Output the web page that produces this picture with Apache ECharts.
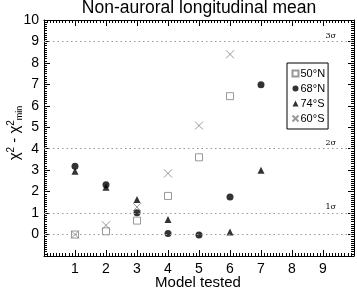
<!DOCTYPE html>
<html><head><meta charset="utf-8">
<script src="https://cdn.jsdelivr.net/npm/echarts@6/dist/echarts.min.js"></script>
<style>html,body{margin:0;padding:0;background:#fff}#c{width:357px;height:290px}</style>
</head><body><div id="c"></div>
<script>
const models = [1, 2, 3, 4, 5, 6, 7];
const xTickLabels = [1, 2, 3, 4, 5, 6, 7, 8, 9];
const yTickLabels = [0, 1, 2, 3, 4, 5, 6, 7, 8, 9, 10];
const n50N = [0.0, 0.15, 0.65, 1.8, 3.6, 6.45, null];
const n68N = [3.18, 2.32, 1.02, 0.05, -0.02, 1.75, 6.98];
const s74S = [2.95, 2.2, 1.63, 0.7, null, 0.12, 3.0];
const s60S = [0.0, 0.43, 1.28, 2.85, 5.08, 8.4, null];
const sigmaLevels = [1, 4, 9];
const sigmaNames = ['1σ', '2σ', '3σ'];
const xName = 'Model tested';
const yName = '{c|χ}{sup|2}{c| - χ}{sup|2}{sub|min}';

const font = 'Liberation Sans';
const pairs = arr => models.map((m, i) => [m, arr[i]]).filter(p => p[1] !== null);
const crossPath = 'path://M0,0L10,10M10,0L0,10';

const chart = echarts.init(document.getElementById('c'), null, {renderer: 'canvas'});
const axisCommon = {
  min: 0, max: 10, interval: 1,
  axisLine: {show: true, onZero: false, lineStyle: {color: '#000', width: 1}},
  axisTick: {show: true, inside: true, length: 6, lineStyle: {color: '#000'}},
  minorTick: {show: true, splitNumber: 10, length: 3, lineStyle: {color: '#000'}},
  splitLine: {show: false}
};
chart.setOption({
  animation: false,
  title: [
    {text: 'Non-auroral longitudinal mean', left: 199, textAlign: 'center', top: -1, padding: 0,
      textStyle: {fontFamily: font, fontSize: 17.5, fontWeight: 'normal', color: '#000'}},
    {text: xName, left: 198, textAlign: 'center', top: 275, padding: 0,
      textStyle: {fontFamily: font, fontSize: 15, fontWeight: 'normal', color: '#000'}}
  ],
  graphic: [{type: 'text', x: 15, y: 133, rotation: Math.PI / 2,
    style: {text: yName, align: 'center', verticalAlign: 'middle', fill: '#000',
      font: '15px "Liberation Sans"',
      rich: {
        c: {fontFamily: font, fontSize: 15, fill: '#000', lineHeight: 18, verticalAlign: 'middle'},
        sup: {fontFamily: font, fontSize: 10, fill: '#000', lineHeight: 18, verticalAlign: 'top'},
        sub: {fontFamily: font, fontSize: 9, fill: '#000', lineHeight: 18, verticalAlign: 'bottom'}
      }}}],
  grid: {left: 44, right: 3, top: 20, bottom: 34, outerBoundsMode: 'none', containLabel: false},
  legend: {orient: 'vertical', left: 287, top: 63, padding: [4, 3, 4, 3],
    borderColor: '#000', borderWidth: 1, backgroundColor: '#fff',
    itemWidth: 6, itemHeight: 6, itemGap: 2,
    textStyle: {fontFamily: font, fontSize: 11, lineHeight: 13, color: '#000', padding: [0, 0, 0, -3]},
    data: ['50°N', '68°N', '74°S', '60°S']},
  xAxis: [
    Object.assign({}, axisCommon, {type: 'value', position: 'bottom',
      axisLabel: {fontFamily: font, fontSize: 14, color: '#000', margin: 6,
        formatter: v => xTickLabels.includes(v) ? String(v) : ''}}),
    Object.assign({}, axisCommon, {type: 'value', position: 'top', axisLabel: {show: false}})
  ],
  yAxis: [
    Object.assign({}, axisCommon, {type: 'value', min: -1, max: 10, position: 'left',
      axisLabel: {fontFamily: font, fontSize: 14, color: '#000', margin: 5,
        formatter: v => yTickLabels.includes(v) ? String(v) : ''}}),
    Object.assign({}, axisCommon, {type: 'value', min: -1, max: 10, position: 'right', axisLabel: {show: false}})
  ],
  series: [
    {name: '50°N', type: 'scatter', data: pairs(n50N), symbol: 'rect', symbolSize: 7,
      itemStyle: {color: '#fff', borderColor: '#808080', borderWidth: 1}, z: 3,
      markLine: {silent: true, symbol: 'none', animation: false,
        lineStyle: {type: [1.5, 3], color: '#999', width: 1},
        label: {show: true, position: 'insideEndTop', fontFamily: 'DejaVu Serif', fontSize: 8, color: '#000', distance: [18, 2],
          formatter: p => p.name},
        data: [{yAxis: 0, name: '', label: {show: false}}].concat(sigmaLevels.map((s, i) => ({yAxis: s, name: sigmaNames[i]})))}},
    {name: '68°N', type: 'scatter', data: pairs(n68N), symbol: 'circle', symbolSize: 7,
      itemStyle: {color: '#000'}, z: 4},
    {name: '74°S', type: 'scatter', data: pairs(s74S), symbol: 'triangle', symbolSize: 7,
      itemStyle: {color: '#000'}, z: 4},
    {name: '60°S', type: 'scatter', data: pairs(s60S), symbol: crossPath, symbolSize: 8,
      itemStyle: {color: 'none', borderColor: '#808080', borderWidth: 1}, z: 3}
  ]
});
</script></body></html>
